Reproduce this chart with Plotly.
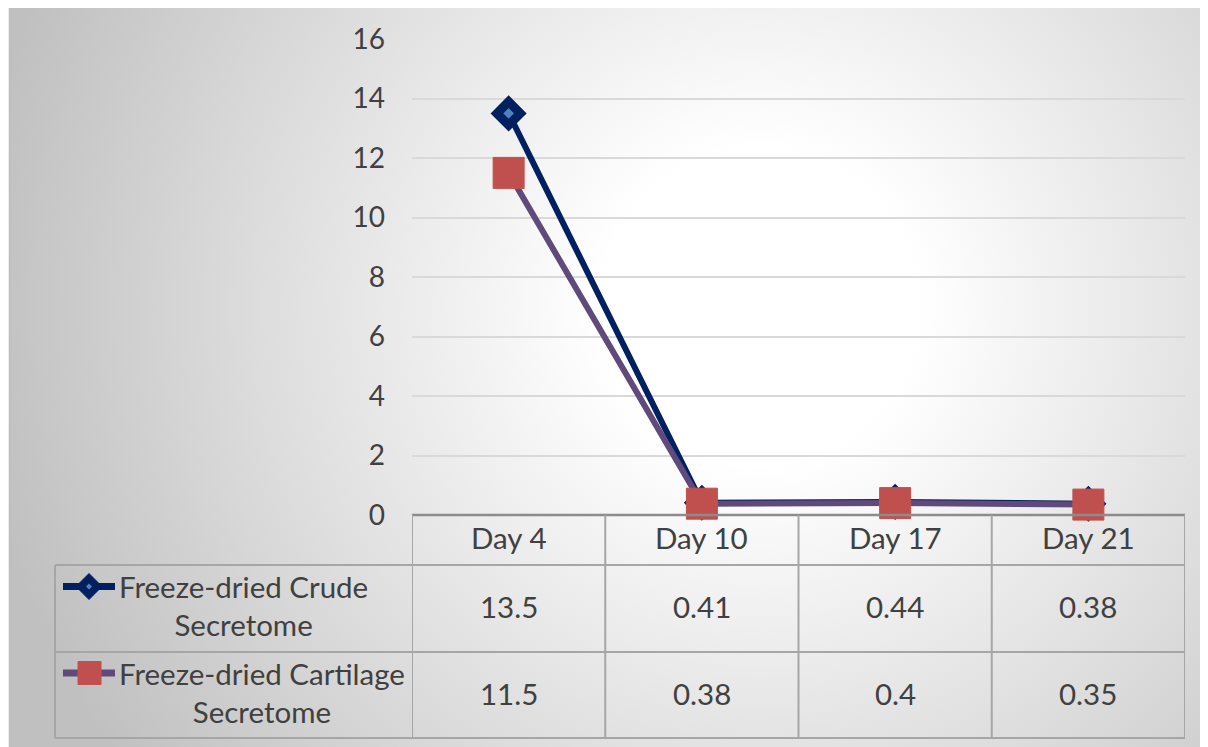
import base64
import plotly.graph_objects as go

# ---- data ----
categories = ["Day 4", "Day 10", "Day 17", "Day 21"]
series_names = ["Freeze-dried Crude<br>Secretome", "Freeze-dried Cartilage<br>Secretome"]
crude = [13.5, 0.41, 0.44, 0.38]
cartilage = [11.5, 0.38, 0.4, 0.35]
y_ticks = [0, 2, 4, 6, 8, 10, 12, 14, 16]

OFF = 8  # page body margin
W, H = 1208 - OFF, 747 - OFF
FONT = "Lato"
TXT = "#404040"
FS = 29.5


def px(x):
    return (x - OFF) / W


def py(y):
    return 1 - (y - OFF) / H


# plot area in pixels (screen coordinates)
PL, PR, PT, PB = 412, 1185, 39, 515
ROW1, ROW2, ROW3 = 565, 652, 738
LEG_L = 55

fig = go.Figure()

fig.add_trace(go.Scatter(
    x=categories, y=crude, mode="lines+markers", name="crude",
    line=dict(color="#002060", width=6),
    marker=dict(symbol="diamond", size=18, color="#4f81bd",
                line=dict(color="#002060", width=9)),
    showlegend=False, cliponaxis=False,
))
fig.add_trace(go.Scatter(
    x=categories, y=cartilage, mode="lines+markers", name="cartilage",
    line=dict(color="#604a7b", width=6),
    marker=dict(symbol="square", size=31, color="#c0504d",
                line=dict(color="#c0504d", width=1)),
    showlegend=False, cliponaxis=False,
))

# gradient background
svg = (
    "<svg xmlns='http://www.w3.org/2000/svg' width='1198' height='740'>"
    "<defs><radialGradient id='g' gradientUnits='userSpaceOnUse' cx='750' cy='300' r='790'>"
    "<stop offset='0' stop-color='#ffffff'/><stop offset='0.2' stop-color='#ffffff'/>"
    "<stop offset='1' stop-color='#c0c0c0'/></radialGradient></defs>"
    "<rect width='1198' height='740' fill='url(#g)'/></svg>"
)
src = "data:image/svg+xml;base64," + base64.b64encode(svg.encode()).decode()

shapes = []
line_col = "#a6a6a6"
# outer border (top and left edges)
shapes.append(dict(type="line", xref="paper", yref="paper", x0=px(9), x1=px(1208),
                   y0=py(6.5), y1=py(6.5), line=dict(color="#bcbcbc", width=1.5), layer="below"))
shapes.append(dict(type="line", xref="paper", yref="paper", x0=px(9.5), x1=px(9.5),
                   y0=py(6), y1=py(747), line=dict(color="#bcbcbc", width=1.5), layer="below"))
# table horizontal lines
shapes.append(dict(type="line", xref="paper", yref="paper", x0=px(PL), x1=px(PR),
                   y0=py(PB), y1=py(PB), line=dict(color="#8c8c8c", width=2.5)))
for yy in (ROW1, ROW2, ROW3):
    shapes.append(dict(type="line", xref="paper", yref="paper", x0=px(LEG_L), x1=px(PR),
                       y0=py(yy), y1=py(yy), line=dict(color=line_col, width=2)))
# vertical lines
for i in range(len(categories) + 1):
    shapes.append(dict(type="line", xref="x", yref="paper", x0=i - 0.5, x1=i - 0.5,
                       y0=py(PB), y1=py(ROW3), line=dict(color=line_col, width=2)))
shapes.append(dict(type="line", xref="paper", yref="paper", x0=px(LEG_L), x1=px(LEG_L),
                   y0=py(ROW1), y1=py(ROW3), line=dict(color=line_col, width=2)))

annotations = []
for i, c in enumerate(categories):
    annotations.append(dict(x=c, xref="x", y=py(537), yref="paper", text=c,
                            xanchor="center", yanchor="middle",
                            showarrow=False, font=dict(family=FONT, size=FS, color=TXT)))
for vals, yc in ((crude, (ROW1 + ROW2) / 2), (cartilage, (ROW2 + ROW3) / 2)):
    for c, v in zip(categories, vals):
        annotations.append(dict(x=c, xref="x", y=py(yc - 2), yref="paper", text=str(v),
                                xanchor="center", yanchor="middle",
                                showarrow=False, font=dict(family=FONT, size=FS, color=TXT)))

# legend entries in table
leg_y = [(ROW1 + ROW2) / 2, (ROW2 + ROW3) / 2]
for name, yc in zip(series_names, leg_y):
    annotations.append(dict(x=px(117), xref="paper", y=py(yc - 3), yref="paper", text=name,
                            xanchor="left", yanchor="middle", align="center", showarrow=False,
                            font=dict(family=FONT, size=FS, color=TXT)))

# legend keys
k1 = leg_y[0] - 22
k2 = leg_y[1] - 22
shapes.append(dict(type="line", xref="paper", yref="paper", x0=px(63), x1=px(115),
                   y0=py(k1), y1=py(k1), line=dict(color="#002060", width=7)))
shapes.append(dict(type="path", xref="paper", yref="paper",
                   path=f"M {px(89-13)},{py(k1)} L {px(89)},{py(k1-13)} L {px(89+13)},{py(k1)} L {px(89)},{py(k1+13)} Z",
                   fillcolor="#002060", line=dict(color="#002060", width=1)))
shapes.append(dict(type="path", xref="paper", yref="paper",
                   path=f"M {px(89-3)},{py(k1)} L {px(89)},{py(k1-3)} L {px(89+3)},{py(k1)} L {px(89)},{py(k1+3)} Z",
                   fillcolor="#4f81bd", line=dict(color="#4f81bd", width=0)))
shapes.append(dict(type="line", xref="paper", yref="paper", x0=px(63), x1=px(115),
                   y0=py(k2), y1=py(k2), line=dict(color="#604a7b", width=7)))
shapes.append(dict(type="rect", xref="paper", yref="paper", x0=px(78), x1=px(101),
                   y0=py(k2 + 11.5), y1=py(k2 - 11.5),
                   fillcolor="#c0504d", line=dict(color="#c0504d", width=1)))

fig.update_layout(
    width=W, height=H, margin=dict(l=0, r=0, t=0, b=0, pad=0, autoexpand=False),
    paper_bgcolor="white", plot_bgcolor="rgba(0,0,0,0)",
    xaxis=dict(domain=[px(PL), px(PR)], range=[-0.5, 3.5], showticklabels=False,
               showgrid=False, zeroline=False, showline=False, ticks="", automargin=False),
    yaxis=dict(domain=[py(PB), py(PT)], range=[0, 16], tickvals=y_ticks,
               showgrid=True, gridcolor="#d9d9d9", gridwidth=1.5, zeroline=False,
               showline=False, ticks="", ticklabelstandoff=26, automargin=False,
               tickfont=dict(family=FONT, size=28, color=TXT)),
    images=[dict(source=src, xref="paper", yref="paper", x=px(10), y=py(7),
                 sizex=(1208 - 10) / W, sizey=(747 - 7) / H, xanchor="left", yanchor="top",
                 sizing="stretch", layer="below")],
    shapes=shapes, annotations=annotations,
)

fig.write_html("out.html")
